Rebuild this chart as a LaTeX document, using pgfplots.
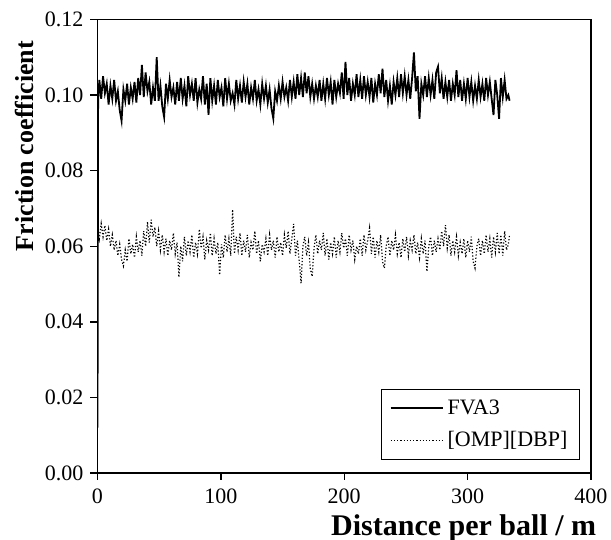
\documentclass[border=0pt]{standalone}
\usepackage{fontspec}
\setmainfont{Liberation Serif}
\usepackage{pgfplots}
\usepackage{pgfplotstable}
\pgfplotsset{compat=1.18}

% friction trace, every 1.5 m
\pgfplotstableread{
x      fva     omp
0      0.0120  0.0600
0.5    0.0985  0.0645
1.5    0.1040  0.0620
3      0.0990  0.0660
4.5    0.1050  0.0625
6      0.1005  0.0655
7.5    0.1030  0.0615
9      0.0975  0.0645
10.5   0.1025  0.0600
12     0.0990  0.0630
13.5   0.1040  0.0590
15     0.0985  0.0615
16.5   0.1010  0.0575
18     0.0960  0.0605
19.5   0.0932  0.0565
21     0.1015  0.0548
22.5   0.0985  0.0590
24     0.1030  0.0560
25.5   0.0975  0.0620
27     0.1020  0.0580
28.5   0.0990  0.0605
30     0.1035  0.0570
31.5   0.0980  0.0625
33     0.1045  0.0585
34.5   0.1000  0.0615
36     0.1080  0.0575
37.5   0.0995  0.0640
39     0.1060  0.0600
40.5   0.1010  0.0665
42     0.1035  0.0610
43.5   0.0975  0.0670
45     0.1020  0.0625
46.5   0.0985  0.0650
48     0.1100  0.0600
49.5   0.0985  0.0640
51     0.1025  0.0590
52.5   0.0970  0.0630
54     0.0942  0.0585
55.5   0.1030  0.0620
57     0.0990  0.0575
58.5   0.1040  0.0615
60     0.0995  0.0590
61.5   0.1020  0.0635
63     0.0975  0.0580
64.5   0.1035  0.0610
66     0.0985  0.0518
67.5   0.1045  0.0600
69     0.0990  0.0560
70.5   0.1025  0.0625
72     0.0970  0.0575
73.5   0.1050  0.0615
75     0.1000  0.0585
76.5   0.1030  0.0630
78     0.0985  0.0570
79.5   0.1045  0.0610
81     0.0980  0.0580
82.5   0.1015  0.0645
84     0.0990  0.0595
85.5   0.1050  0.0625
87     0.0975  0.0565
88.5   0.1030  0.0615
90     0.0948  0.0590
91.5   0.1045  0.0635
93     0.0985  0.0575
94.5   0.1025  0.0620
96     0.0975  0.0580
97.5   0.1040  0.0610
99     0.0995  0.0524
100.5  0.1020  0.0605
102    0.0970  0.0570
103.5  0.1045  0.0630
105    0.0990  0.0585
106.5  0.1030  0.0620
108    0.0985  0.0575
109.5  0.1005  0.0697
111    0.0975  0.0580
112.5  0.1040  0.0625
114    0.0990  0.0590
115.5  0.1025  0.0635
117    0.0980  0.0575
118.5  0.1035  0.0615
120    0.0995  0.0585
121.5  0.1030  0.0630
123    0.0975  0.0570
124.5  0.1020  0.0610
126    0.0990  0.0590
127.5  0.1040  0.0640
129    0.0985  0.0580
130.5  0.1015  0.0615
132    0.0975  0.0560
133.5  0.1030  0.0605
135    0.0990  0.0585
136.5  0.1025  0.0620
138    0.0980  0.0575
139.5  0.1015  0.0630
141    0.0965  0.0590
142.5  0.0938  0.0615
144    0.1010  0.0570
145.5  0.0985  0.0625
147    0.1025  0.0585
148.5  0.0990  0.0610
150    0.1035  0.0575
151.5  0.0995  0.0630
153    0.1020  0.0595
154.5  0.0985  0.0640
156    0.1040  0.0580
157.5  0.0995  0.0620
159    0.1035  0.0659
160.5  0.0990  0.0575
162    0.1055  0.0615
163.5  0.1000  0.0560
165    0.1045  0.0502
166.5  0.0995  0.0600
168    0.1060  0.0625
169.5  0.1005  0.0575
171    0.1050  0.0610
172.5  0.0995  0.0540
174    0.1030  0.0520
175.5  0.0990  0.0595
177    0.1025  0.0630
178.5  0.0995  0.0580
180    0.1040  0.0615
181.5  0.0985  0.0590
183    0.1030  0.0635
184.5  0.0990  0.0575
186    0.1045  0.0620
187.5  0.1000  0.0565
189    0.1035  0.0610
190.5  0.0975  0.0580
192    0.1040  0.0625
193.5  0.0995  0.0570
195    0.1030  0.0615
196.5  0.1005  0.0585
198    0.1060  0.0635
199.5  0.0990  0.0595
201    0.1088  0.0620
202.5  0.1000  0.0575
204    0.1045  0.0630
205.5  0.0985  0.0590
207    0.1030  0.0615
208.5  0.1000  0.0565
210    0.1055  0.0600
211.5  0.0995  0.0580
213    0.1040  0.0620
214.5  0.0990  0.0575
216    0.1050  0.0630
217.5  0.1000  0.0590
219    0.1035  0.0615
220.5  0.0995  0.0648
222    0.1045  0.0580
223.5  0.0980  0.0625
225    0.1030  0.0570
226.5  0.1000  0.0615
228    0.1055  0.0585
229.5  0.1005  0.0630
231    0.1070  0.0560
232.5  0.0995  0.0542
234    0.1040  0.0600
235.5  0.0985  0.0625
237    0.1025  0.0575
238.5  0.0975  0.0615
240    0.1035  0.0590
241.5  0.1000  0.0630
243    0.1045  0.0580
244.5  0.0995  0.0610
246    0.1055  0.0570
247.5  0.1005  0.0620
249    0.1050  0.0585
250.5  0.1000  0.0625
252    0.1040  0.0575
253.5  0.0990  0.0615
255    0.1045  0.0590
256.5  0.1113  0.0630
258    0.1010  0.0580
259.5  0.1050  0.0610
261    0.0937  0.0570
262.5  0.1030  0.0620
264    0.1000  0.0580
265.5  0.1050  0.0615
267    0.0995  0.0533
268.5  0.1045  0.0600
270    0.1000  0.0625
271.5  0.1040  0.0575
273    0.0990  0.0615
274.5  0.1060  0.0585
276    0.1075  0.0620
277.5  0.1005  0.0590
279    0.1045  0.0640
280.5  0.0990  0.0600
282    0.1035  0.0656
283.5  0.0995  0.0595
285    0.1040  0.0630
286.5  0.0985  0.0575
288    0.1030  0.0615
289.5  0.1000  0.0585
291    0.1066  0.0625
292.5  0.0995  0.0575
294    0.1040  0.0610
295.5  0.0985  0.0580
297    0.1030  0.0620
298.5  0.0990  0.0570
300    0.1045  0.0615
301.5  0.0995  0.0585
303    0.1035  0.0625
304.5  0.0985  0.0560
306    0.1025  0.0542
307.5  0.0990  0.0600
309    0.1040  0.0620
310.5  0.0995  0.0575
312    0.1030  0.0615
313.5  0.0985  0.0580
315    0.1045  0.0630
316.5  0.1000  0.0585
318    0.1035  0.0620
319.5  0.0990  0.0570
321    0.0947  0.0625
322.5  0.1040  0.0585
324    0.1000  0.0635
325.5  0.0937  0.0580
327    0.1045  0.0630
328.5  0.0995  0.0575
330    0.1040  0.0640
331.5  0.0990  0.0590
333    0.1000  0.0605
334    0.0985  0.0630
}\friction

\begin{document}
\begin{tikzpicture}
\begin{axis}[
  scale only axis,
  width=246.75pt, height=226.75pt,
  xmin=0, xmax=400, ymin=0, ymax=0.12,
  xtick={0,100,200,300,400},
  ytick={0,0.02,0.04,0.06,0.08,0.1,0.12},
  yticklabels={0.00,0.02,0.04,0.06,0.08,0.10,0.12},
  tick align=outside,
  tick pos=left,
  major tick length=3.5pt,
  axis line style={line width=0.7pt},
  every tick/.style={black, line width=0.7pt},
  /pgf/number format/assume math mode=true,
  tick label style={font=\fontsize{11}{13}\selectfont},
  xticklabel style={yshift=-1pt},
  xlabel={\textbf{Distance per ball / m}},
  ylabel={\textbf{Friction coefficient}},
  xlabel style={font=\fontsize{15}{17}\selectfont,
    at={(axis description cs:0.742,-0.121)}, anchor=center},
  ylabel style={font=\fontsize{13}{15}\selectfont,
    at={(axis description cs:-0.147,0.721)}, anchor=center},
  legend cell align=left,
  legend style={at={(1,0)}, anchor=south east, xshift=-5.5pt, yshift=6.5pt,
    draw=black, line width=0.6pt, inner xsep=4pt, inner ysep=3pt,
    font=\fontsize{11}{13}\selectfont, row sep=3pt},
  legend image code/.code={\draw[#1] (0pt,0pt) -- (26pt,0pt);},
]
\addplot[black, line width=0.9pt] table[x=x, y=fva] {\friction};
\addlegendentry{FVA3}
\addplot[black, densely dotted, line width=0.6pt] table[x=x, y=omp] {\friction};
\addlegendentry{{}[OMP][DBP]}
\coordinate (sw) at (rel axis cs:0,0);
\end{axis}
\pgfresetboundingbox
\path (sw) ++(-48.75pt,-33.5pt) rectangle ++(305.5pt,270pt);
\end{tikzpicture}
\end{document}
